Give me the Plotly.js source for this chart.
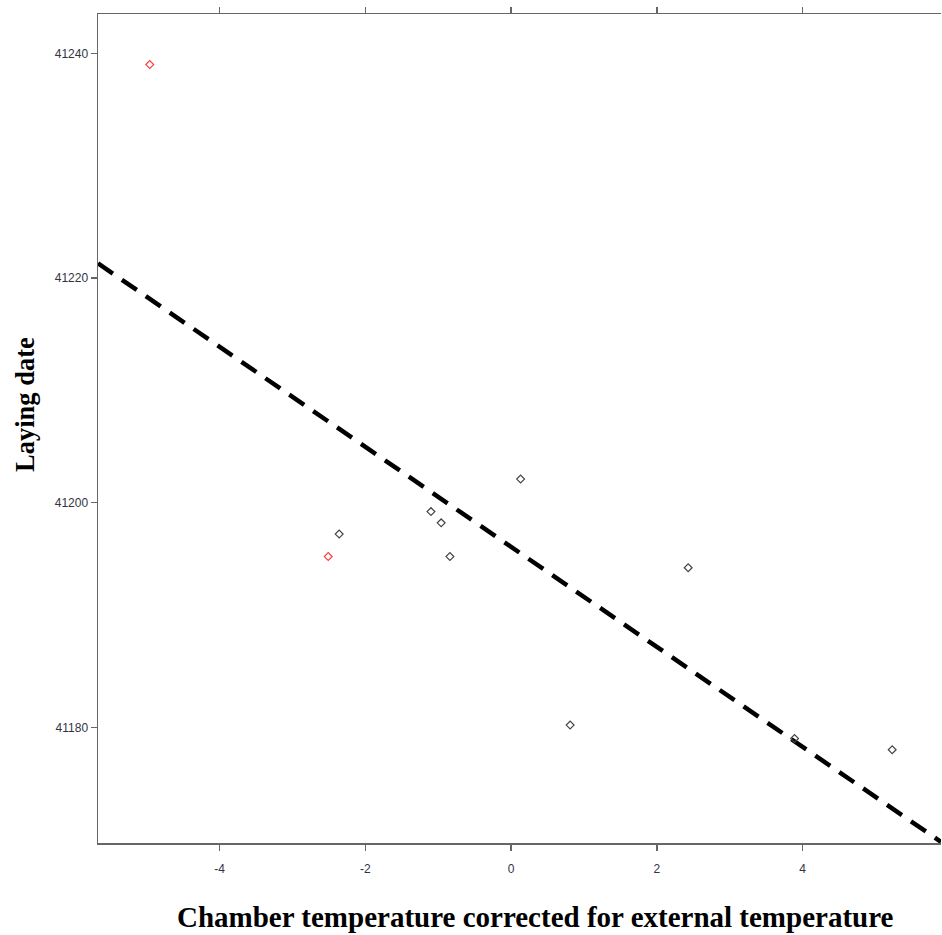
<!DOCTYPE html>
<html>
<head>
<meta charset="utf-8">
<script src="https://cdn.plot.ly/plotly-3.0.1.min.js"></script>
<style>html,body{margin:0;padding:0;background:#fff;}#chart{width:942px;height:935px;}</style>
</head>
<body>
<div id="chart"></div>
<script>
// Observations: chamber temperature (corrected) vs laying date
const blackX = [-2.36, -1.10, -0.96, -0.84, 0.13, 0.81, 2.43, 3.89, 5.23];
const blackY = [41197.2, 41199.2, 41198.2, 41195.2, 41202.1, 41180.2, 41194.2, 41179.0, 41178.0];
const redX = [-4.96, -2.51];
const redY = [41239.0, 41195.2];
// Fitted regression line
const fitX = [-5.67, 5.90];
const fitY = [41221.3, 41169.8];
const xTicks = [-4, -2, 0, 2, 4];
const yTicks = [41180, 41200, 41220, 41240];
const xTitle = 'Chamber temperature corrected for external temperature';
const yTitle = 'Laying date';

const traces = [
  {x: fitX, y: fitY, mode: 'lines', type: 'scatter',
   line: {color: '#000', width: 4.5, dash: '18px,11px'}, hoverinfo: 'skip'},
  {x: blackX, y: blackY, mode: 'markers', type: 'scatter',
   marker: {symbol: 'diamond-open', size: 6, color: '#444', line: {width: 1.2, color: '#444'}}},
  {x: redX, y: redY, mode: 'markers', type: 'scatter',
   marker: {symbol: 'diamond-open', size: 6, color: '#ff3b3b', line: {width: 1.2, color: '#ff3b3b'}}}
];

const titleFont = {family: 'Liberation Serif, Times New Roman, serif', color: '#000', weight: 'bold'};

const layout = {
  width: 942, height: 935,
  margin: {l: 98, r: 1, t: 14, b: 92},
  showlegend: false,
  paper_bgcolor: '#fff', plot_bgcolor: '#fff',
  xaxis: {
    range: [-5.67, 5.90], tickvals: xTicks, ticktext: xTicks.map(String),
    showgrid: false, zeroline: false, showline: true, linecolor: '#666', linewidth: 1.5,
    ticks: 'outside', ticklen: 6, tickwidth: 1.5, tickcolor: '#666', mirror: 'ticks',
    ticklabelstandoff: 8,
    tickfont: {family: 'Liberation Sans, Arial, sans-serif', size: 12, color: '#334'}
  },
  yaxis: {
    range: [41169.7, 41243.5], tickvals: yTicks, ticktext: yTicks.map(String),
    showgrid: false, zeroline: false, showline: true, linecolor: '#666', linewidth: 1.5,
    ticks: 'outside', ticklen: 6, tickwidth: 1.5, tickcolor: '#666', mirror: false,
    tickfont: {family: 'Liberation Sans, Arial, sans-serif', size: 12, color: '#334'}
  },
  annotations: [
    {text: xTitle, xref: 'paper', yref: 'paper', x: (535 - 98) / 843, y: -(917 - 843) / 829,
     xanchor: 'center', yanchor: 'middle', showarrow: false,
     font: Object.assign({size: 29}, titleFont)},
    {text: yTitle, xref: 'paper', yref: 'paper', x: (25 - 98) / 843, y: (843 - 405) / 829,
     xanchor: 'center', yanchor: 'middle', showarrow: false, textangle: -90,
     font: Object.assign({size: 26.5}, titleFont)}
  ]
};

Plotly.newPlot('chart', traces, layout, {displayModeBar: false, staticPlot: true});
</script>
</body>
</html>
